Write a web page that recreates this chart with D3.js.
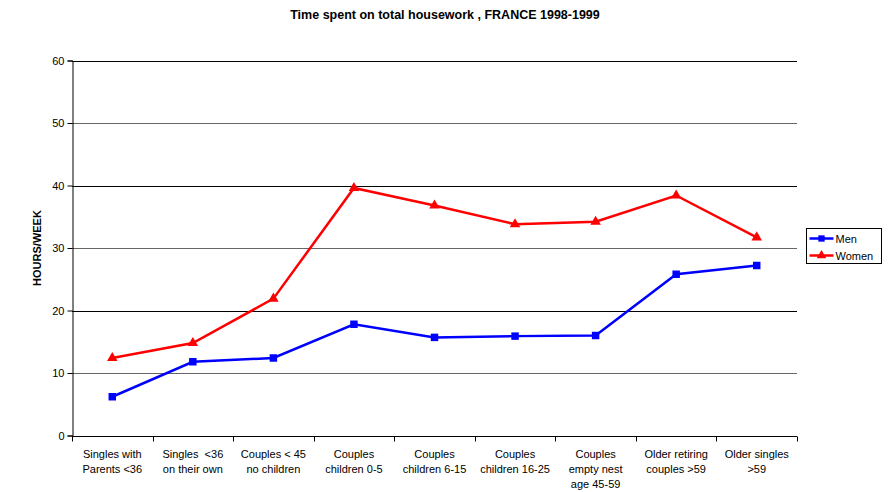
<!DOCTYPE html>
<html><head><meta charset="utf-8">
<script src="https://cdn.jsdelivr.net/npm/d3@7"></script>
<style>body{margin:0;background:#fff}svg{display:block;font-family:"Liberation Sans",Arial,sans-serif}</style>
</head><body><svg id="c" width="890" height="492"></svg>
<script>
const categories = [
  ["Singles with","Parents <36"],
  ["Singles  <36","on their own"],
  ["Couples < 45","no children"],
  ["Couples","children 0-5"],
  ["Couples","children 6-15"],
  ["Couples","children 16-25"],
  ["Couples","empty nest","age 45-59"],
  ["Older retiring","couples >59"],
  ["Older singles",">59"]
];
const men   = [6.2, 11.8, 12.4, 17.8, 15.7, 15.9, 16.0, 25.8, 27.2];
const women = [12.4, 14.8, 21.9, 39.6, 36.8, 33.8, 34.2, 38.4, 31.7];
const yTicks = [0,10,20,30,40,50,60];

const svg = d3.select("#c");
const L=72, R=797, T=60.5, B=435.5;
const x = d3.scaleBand().domain(d3.range(categories.length)).range([L,R]);
const y = d3.scaleLinear().domain([0,60]).range([B,T]);

svg.append("text").attr("x",445).attr("y",19).attr("text-anchor","middle")
  .attr("font-weight","bold").attr("font-size",12.5).text("Time spent on total housework , FRANCE 1998-1999");

// gridlines
svg.append("g").selectAll("line").data(yTicks.filter(d=>d>0)).join("line")
  .attr("x1",L).attr("x2",R).attr("y1",d=>Math.round(y(d))+0.5).attr("y2",d=>Math.round(y(d))+0.5)
  .attr("stroke",d=>d%20===0?"#000":"#666").attr("stroke-width",1);

// y axis
const ya = svg.append("g").attr("transform",`translate(${L+0.5},0)`)
  .call(d3.axisLeft(y).tickValues(yTicks).tickSize(5).tickPadding(3));
ya.select(".domain").attr("stroke","#000");
ya.selectAll(".tick line").attr("stroke","#000");
ya.selectAll(".tick text").attr("font-size",11).attr("font-family","Liberation Sans, Arial, sans-serif").attr("fill","#000");

// x axis
const xa = svg.append("g").attr("transform",`translate(0,${Math.round(B)+0.5})`);
xa.append("line").attr("x1",L).attr("x2",R).attr("stroke","#000");
xa.selectAll("line.t").data(d3.range(categories.length+1)).join("line").attr("class","t")
  .attr("x1",i=>Math.round(L+i*x.step())+0.5).attr("x2",i=>Math.round(L+i*x.step())+0.5)
  .attr("y1",0).attr("y2",5).attr("stroke","#000");
xa.selectAll("text").data(categories).join("text")
  .attr("text-anchor","middle").attr("font-size",11).style("white-space","pre")
  .attr("transform",(d,i)=>`translate(${x(i)+x.bandwidth()/2},0)`)
  .each(function(d){
    d3.select(this).selectAll("tspan").data(d).join("tspan")
      .attr("x",0).attr("y",(t,j)=>21.5+j*15).text(t=>t);
  });

svg.append("text").attr("transform",`translate(41,${(T+B)/2}) rotate(-90)`)
  .attr("text-anchor","middle").attr("font-weight","bold").attr("font-size",11).text("HOURS/WEEK");

const line = d3.line().x((d,i)=>x(i)+x.bandwidth()/2).y(d=>y(d));
const series = [{name:"Men",vals:men,color:"#0000ff",sym:d3.symbolSquare},
                {name:"Women",vals:women,color:"#ff0000",sym:d3.symbolTriangle}];
series.forEach(s=>{
  svg.append("path").datum(s.vals).attr("d",line).attr("fill","none")
    .attr("stroke",s.color).attr("stroke-width",2.5);
  svg.append("g").selectAll("path").data(s.vals).join("path")
    .attr("transform",(d,i)=>`translate(${x(i)+x.bandwidth()/2},${y(d)})`)
    .attr("d",d3.symbol().type(s.sym).size(s.sym===d3.symbolSquare?56:48)).attr("fill",s.color);
});

// legend
const lg = svg.append("g").attr("transform","translate(806.5,228.5)");
lg.append("rect").attr("width",75).attr("height",35).attr("fill","#fff").attr("stroke","#000");
series.forEach((s,i)=>{
  const yy = 10+i*17;
  lg.append("line").attr("x1",3).attr("x2",27).attr("y1",yy).attr("y2",yy).attr("stroke",s.color).attr("stroke-width",2.5);
  lg.append("path").attr("transform",`translate(15,${yy})`).attr("d",d3.symbol().type(s.sym).size(40)).attr("fill",s.color);
  lg.append("text").attr("x",29).attr("y",yy+4).attr("font-size",11).text(s.name);
});
</script></body></html>
